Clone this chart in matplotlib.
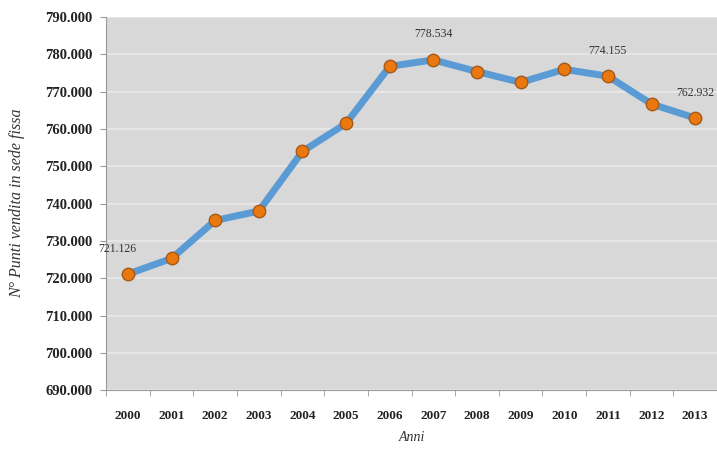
import matplotlib.pyplot as plt
from matplotlib.ticker import FuncFormatter

anni = ["2000", "2001", "2002", "2003", "2004", "2005", "2006",
        "2007", "2008", "2009", "2010", "2011", "2012", "2013"]
punti = [721126, 725300, 735500, 738000, 754000, 761500, 776800,
         778534, 775400, 772500, 776000, 774155, 766700, 762932]
etichette = {0: "721.126", 7: "778.534", 11: "774.155", 13: "762.932"}

plt.rcParams['font.family'] = ['Liberation Serif', 'DejaVu Serif']

fig = plt.figure(figsize=(7.17, 4.5), dpi=100)
ax = fig.add_axes([0.148, 0.133, 0.852, 0.829])
ax.set_facecolor("#d8d8d8")

x = list(range(len(anni)))
ax.plot(x, punti, color="#5b9bd5", linewidth=5, solid_joinstyle="round", zorder=3)
ax.plot(x, punti, linestyle="none", marker="o", markersize=9,
        markerfacecolor="#e8780f", markeredgecolor="#a65a18", markeredgewidth=1.0, zorder=4)

for i, txt in etichette.items():
    dx = -8 if i == 0 else 0
    ax.annotate(txt, (x[i], punti[i]), xytext=(dx, 14), textcoords="offset points",
                ha="center", va="bottom", fontsize=8.5, color="#333333", annotation_clip=False)

ax.set_xlim(-0.5, len(anni) - 0.5)
ax.set_ylim(690000, 790000)
ax.set_yticks(range(690000, 790001, 10000))
ax.yaxis.set_major_formatter(FuncFormatter(lambda v, p: f"{int(v):,}".replace(",", ".")))
ax.set_xticks(x)
ax.set_xticklabels(anni)
ax.set_xticks([i - 0.5 for i in range(len(anni) + 1)], minor=True)

ax.grid(axis="y", color="#e9e9e9", linewidth=1.2)
ax.set_axisbelow(True)
for s in ["top", "right"]:
    ax.spines[s].set_visible(False)
ax.spines["left"].set_color("#999999")
ax.spines["bottom"].set_color("#999999")

ax.tick_params(axis="y", labelsize=10.5, length=4, color="#999999", pad=6)
ax.tick_params(axis="x", which="major", length=0, labelsize=9.5, pad=14)
ax.tick_params(axis="x", which="minor", length=4, color="#999999")
for lbl in ax.get_xticklabels() + ax.get_yticklabels():
    lbl.set_fontweight("bold")
    lbl.set_color("#222222")

ax.set_ylabel("N° Punti vendita in sede fissa", fontsize=11.5, style="italic", color="#333333", labelpad=14)
ax.set_xlabel("Anni", fontsize=10, style="italic", color="#333333", labelpad=7)

fig.savefig("out.png", dpi=100)
